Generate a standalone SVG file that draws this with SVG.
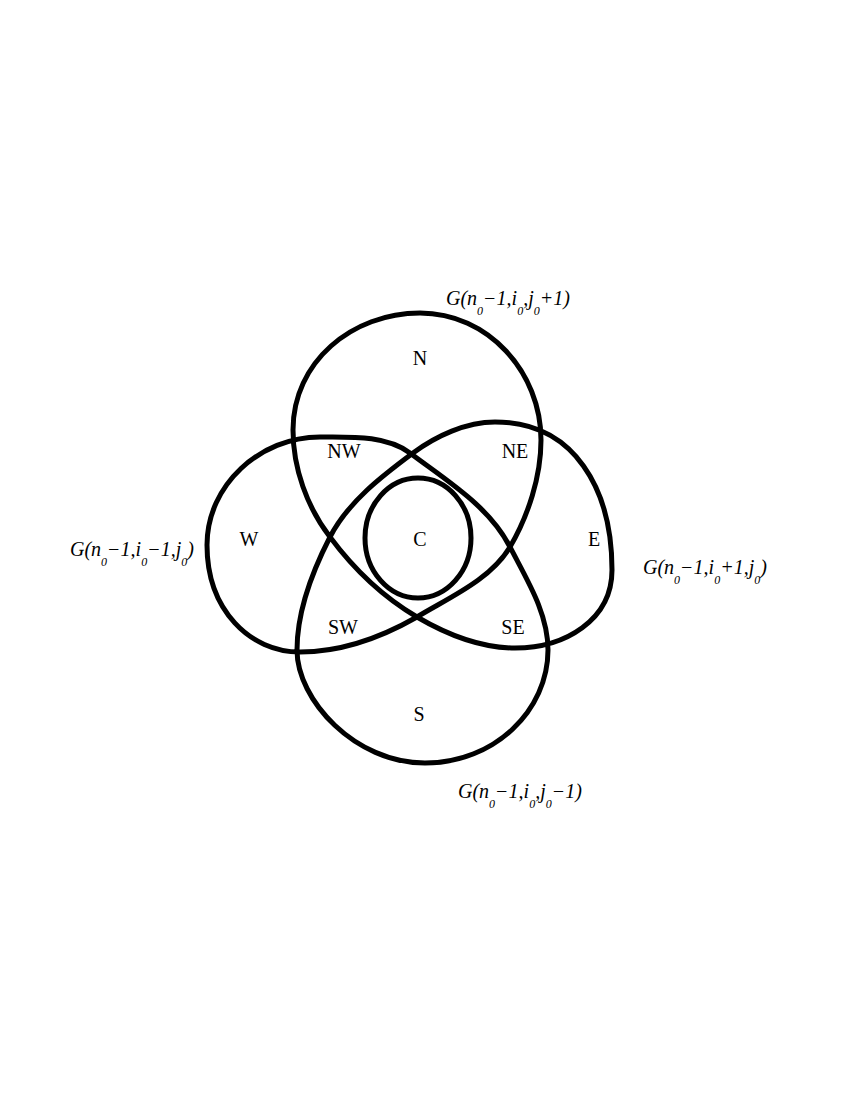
<svg xmlns="http://www.w3.org/2000/svg" width="850" height="1100" viewBox="0 0 850 1100">
<style>
.c{fill:none;stroke:#000;stroke-width:5}
.r{font-family:"Liberation Serif",serif;font-size:20px;text-anchor:middle}
.g{font-family:"Liberation Serif",serif;font-size:20px;font-style:italic}
.s{font-size:12px}
</style>
<rect width="850" height="1100" fill="#fff"/>
<g id="connectors">
<path class="c" d="M420,313 C352,313 293,362 293,430 C293,468 307,507 330,537 C353,568 383,597 417,617 C446,634 481,648 515,648 C565,648 612,620 612,570 C612,490 575,422 495,422 C466,422 436,436 413,453 C382,476 348,502 330,537 C312,572 297,611 297,650 C297,700 355,763 425,763 C495,763 548,710 548,650 C548,613 527,580 510,547 C489,506 447,481 410,453 C386,435 350,437 320,437 C260,437 207,485 207,545 C207,610 250,652 300,652 C341,652 382,637 417,617 C450,597 490,580 510,547 C528,516 541,477 541,440 C541,372 488,313 420,313 Z"/>
</g>
<g id="C-circle"><ellipse class="c" cx="418" cy="538" rx="53" ry="60"/></g>
<g id="labels">
<text class="r" x="420" y="365">N</text>
<text class="r" x="344" y="458">NW</text>
<text class="r" x="515" y="458">NE</text>
<text class="r" x="249" y="546">W</text>
<text class="r" x="420" y="546">C</text>
<text class="r" x="594" y="546">E</text>
<text class="r" x="343" y="634">SW</text>
<text class="r" x="513" y="634">SE</text>
<text class="r" x="419" y="721">S</text>
</g>
<g id="set-labels">
<text class="g" x="446" y="305">G(n<tspan class="s" dy="10">0</tspan><tspan dy="-10">−1,i</tspan><tspan class="s" dy="10">0</tspan><tspan dy="-10">,j</tspan><tspan class="s" dy="10">0</tspan><tspan dy="-10">+1)</tspan></text>
<text class="g" x="70" y="556">G(n<tspan class="s" dy="10">0</tspan><tspan dy="-10">−1,i</tspan><tspan class="s" dy="10">0</tspan><tspan dy="-10">−1,j</tspan><tspan class="s" dy="10">0</tspan><tspan dy="-10">)</tspan></text>
<text class="g" x="643" y="574">G(n<tspan class="s" dy="10">0</tspan><tspan dy="-10">−1,i</tspan><tspan class="s" dy="10">0</tspan><tspan dy="-10">+1,j</tspan><tspan class="s" dy="10">0</tspan><tspan dy="-10">)</tspan></text>
<text class="g" x="458" y="798">G(n<tspan class="s" dy="10">0</tspan><tspan dy="-10">−1,i</tspan><tspan class="s" dy="10">0</tspan><tspan dy="-10">,j</tspan><tspan class="s" dy="10">0</tspan><tspan dy="-10">−1)</tspan></text>
</g>
</svg>
